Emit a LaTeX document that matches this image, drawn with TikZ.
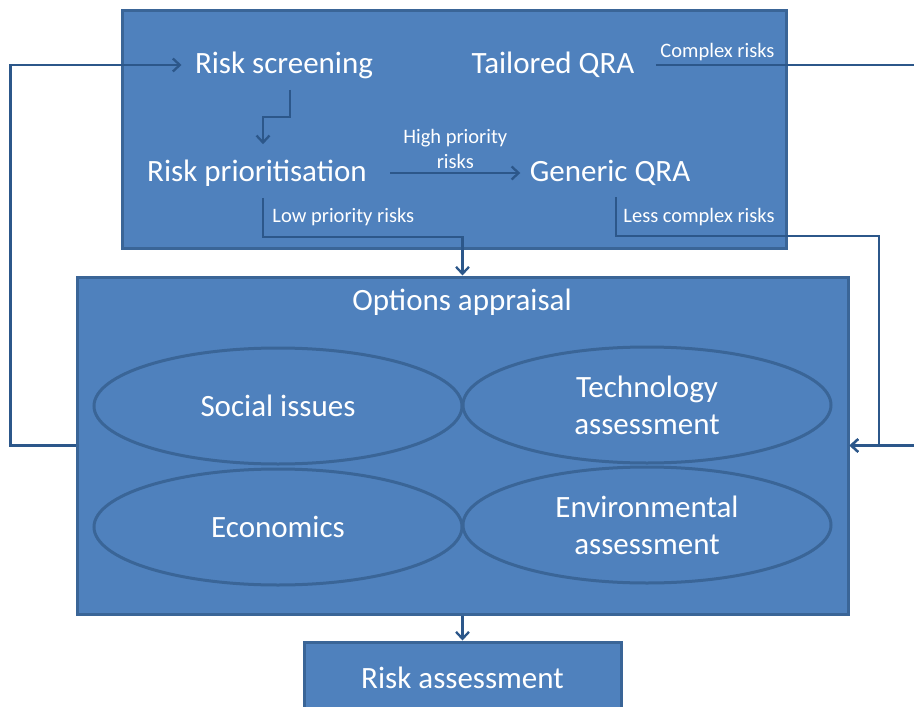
\documentclass[tikz,border=0pt]{standalone}
\usepackage{fontspec}
\setmainfont{Carlito}
\usetikzlibrary{arrows.meta,shapes.geometric}
\definecolor{boxfill}{HTML}{4F81BD}
\definecolor{boxline}{HTML}{3A6597}
\definecolor{flowline}{HTML}{2C578A}
\begin{document}
\begin{tikzpicture}[x=1pt,y=-1pt,
    panel/.style={draw=boxline,line width=3pt,fill=boxfill,inner sep=0pt},
    bubble/.style={ellipse,draw=boxline,line width=3pt,minimum width=368pt,minimum height=116pt,align=center},
    big/.style={text=white,font=\fontsize{31}{37}\selectfont},
    small/.style={text=white,font=\fontsize{20.5}{25}\selectfont},
    flow/.style={draw=flowline,line width=2.3pt,-{Straight Barb[length=7pt,width=13pt]}}]
  \useasboundingbox (0,0) rectangle (914,707);
  \clip (0,0) rectangle (914,707);
  \draw
    (454,129) node[panel,minimum width=664pt,minimum height=238pt] (qrapanel){}
    (462.5,445.5) node[panel,minimum width=771pt,minimum height=337pt] (options){}
    (462.5,678) node[panel,big,minimum width=317pt,minimum height=72pt] (riskassess){Risk assessment};
  \draw
    (278,406) node[bubble,big] (social){Social issues}
    (647,405) node[bubble,big] (technology){Technology\\assessment}
    (278,527) node[bubble,big] (economics){Economics}
    (647,525) node[bubble,big] (environmental){Environmental\\assessment};
  \draw
    (284,65) node[big] (screening){Risk screening}
    (553,65) node[big] (tailored){Tailored QRA}
    (257,173) node[big] (prioritisation){Risk prioritisation}
    (610,173) node[big] (generic){Generic QRA}
    (462,302) node[big] (appraisal){Options appraisal};
  \begin{scope}[flow]
    \draw (options.west) -- ++(-65,0) |- ([xshift=-10pt]screening.west);
    \draw ([shift={(6,8)}]screening.south) -- ++(0,27) -| ([shift={(6,-12)}]prioritisation.north);
    \draw ([xshift=20pt]prioritisation.east) -- node[small,above,align=center]{High priority\\risks} ([xshift=-6pt]generic.west);
    \draw ([shift={(6,8)}]prioritisation.south) -- node[small,right,xshift=5pt]{Low priority risks} ++(0,39) -| (options.north);
    \draw ([shift={(6,8)}]generic.south) -- node[small,right,xshift=3pt]{Less complex risks} ++(0,39) -- ++(263,0) |- (options.east);
    \draw ([xshift=18pt]tailored.east) -- node[small,above right,pos=0]{Complex risks} ++(300,0) |- (options.east);
    \draw (options.south) -- (riskassess.north);
  \end{scope}
\end{tikzpicture}
\end{document}
